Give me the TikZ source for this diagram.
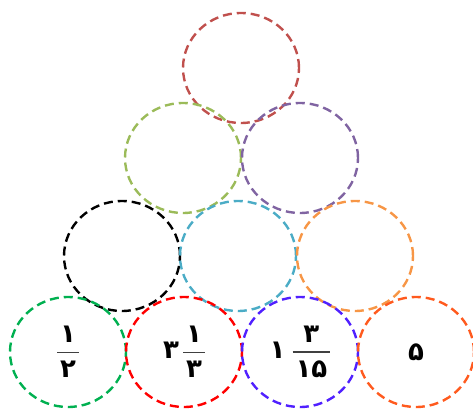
\documentclass[tikz,border=0pt]{standalone}
\usepackage{fontspec}
\usetikzlibrary{shapes.geometric}
\newfontfamily\pfont[Script=Arabic]{DejaVu Sans}
\definecolor{cTop}{HTML}{C0504D}
\definecolor{cOlive}{HTML}{9BBB59}
\definecolor{cPurple}{HTML}{8064A2}
\definecolor{cTeal}{HTML}{4BACC6}
\definecolor{cOrange}{HTML}{F79646}
\definecolor{cGreen}{HTML}{00B050}
\definecolor{cRed}{HTML}{FF0000}
\definecolor{cBlue}{HTML}{5020FF}
\definecolor{cRedOr}{HTML}{FF5A1E}
\definecolor{cBar}{HTML}{404040}
\newcommand{\pd}[1]{\hbox{\pfont\bfseries #1}}
\newlength\fracw
\newcommand{\pfrac}[2]{\settowidth{\fracw}{\pd{#2}}\addtolength{\fracw}{6pt}%
  \vcenter{\offinterlineskip\halign{\hfil##\hfil\cr\pd{#1}\cr\noalign{\vskip9pt}%
  {\color{cBar}\rule{\fracw}{1.8pt}}\cr\noalign{\vskip8pt}\pd{#2}\cr}}}
\begin{document}
\begin{tikzpicture}[x=1pt,y=-1pt,
  ring/.style={ellipse, draw, line width=2.4pt, dash pattern=on 9pt off 5pt,
    minimum width=116pt, minimum height=110pt, inner sep=0pt,
    font=\fontsize{26}{28}\selectfont}]
\useasboundingbox (0,0) rectangle (473,409);
\node[ring, draw=cTop] (t) at (241,68) {};
\node[ring, draw=cOlive] (m1) at (183,158) {};
\node[ring, draw=cPurple] (m2) at (300,158) {};
\node[ring, draw=black] (r1) at (122,256) {};
\node[ring, draw=cTeal] (r2) at (238,256) {};
\node[ring, draw=cOrange] (r3) at (355,256) {};
\node[ring, draw=cGreen] (b1) at (68,352) {$\pfrac{۱}{۲}$};
\node[ring, draw=cRed] (b2) at (184,352) {$\pd{۳}\,\pfrac{۱}{۳}$};
\node[ring, draw=cBlue] (b3) at (300,352) {$\pd{۱}\;\pfrac{۳}{۱۵}$};
\node[ring, draw=cRedOr] (b4) at (416,352) {\pd{۵}};
\end{tikzpicture}
\end{document}
